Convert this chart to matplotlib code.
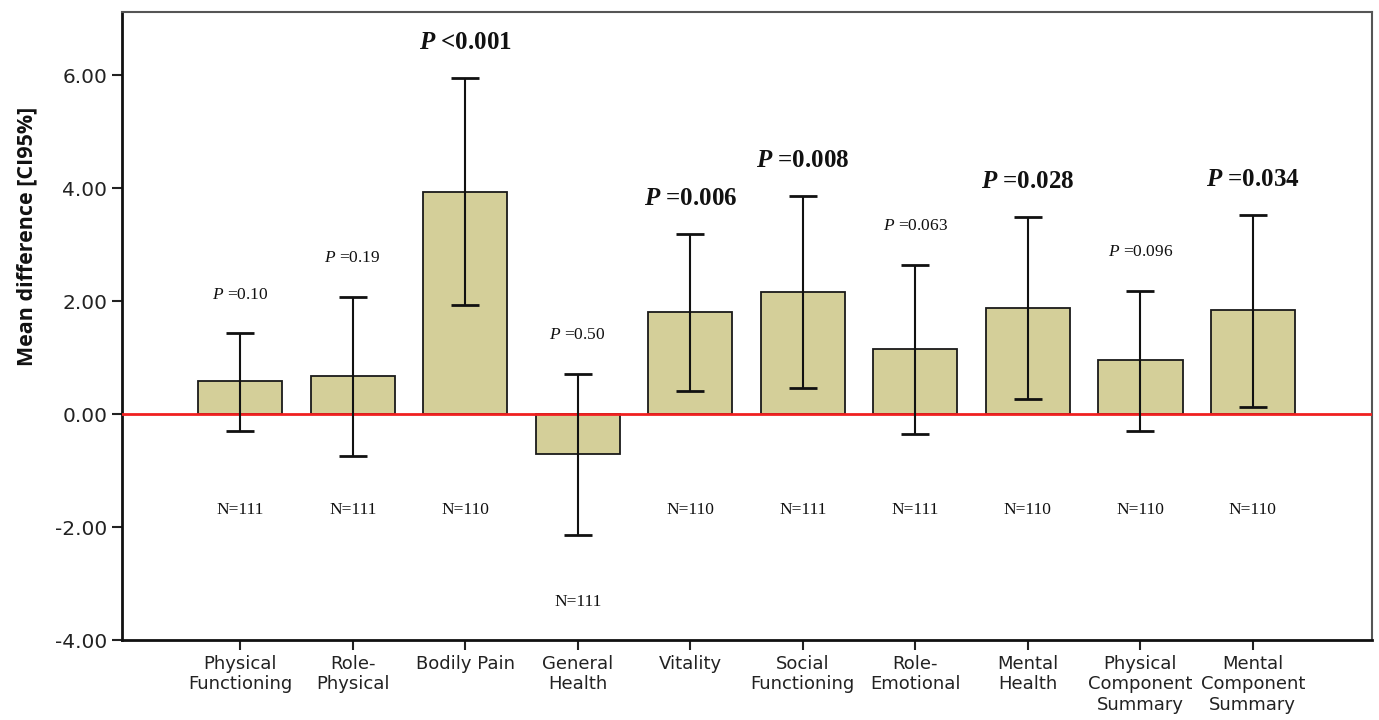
import matplotlib
matplotlib.use("Agg")
import matplotlib.pyplot as plt
import numpy as np

categories = ["Physical\nFunctioning", "Role-\nPhysical", "Bodily Pain", "General\nHealth",
              "Vitality", "Social\nFunctioning", "Role-\nEmotional", "Mental\nHealth",
              "Physical\nComponent\nSummary", "Mental\nComponent\nSummary"]
mean_diff = [0.58, 0.67, 3.93, -0.71, 1.81, 2.16, 1.15, 1.88, 0.96, 1.84]
ci_lower = [-0.30, -0.74, 1.93, -2.14, 0.42, 0.46, -0.35, 0.27, -0.30, 0.12]
ci_upper = [1.43, 2.08, 5.95, 0.71, 3.19, 3.86, 2.64, 3.49, 2.19, 3.52]
p_values = ["=0.10", "=0.19", "<0.001", "=0.50", "=0.006", "=0.008", "=0.063", "=0.028", "=0.096", "=0.034"]
p_significant = [False, False, True, False, True, True, False, True, False, True]
n_values = [111, 111, 110, 111, 110, 111, 111, 110, 110, 110]
y_ticks = [-4, -2, 0, 2, 4, 6]

plt.rcParams['axes.unicode_minus'] = False
plt.rcParams['mathtext.fontset'] = 'custom'
plt.rcParams['mathtext.rm'] = 'Liberation Serif'
plt.rcParams['mathtext.it'] = 'Liberation Serif:italic'
plt.rcParams['mathtext.bf'] = 'Liberation Serif:bold'
plt.rcParams['mathtext.bfit'] = 'Liberation Serif:bold:italic'

fig = plt.figure(figsize=(13.79, 7.2), dpi=100)
ax = fig.add_axes([0.0885, 0.111, 0.9065, 0.872])

x = np.arange(len(categories))
mean = np.array(mean_diff)
lo = np.array(ci_lower)
hi = np.array(ci_upper)

ax.bar(x, mean, width=0.75, color='#d4cf99', edgecolor='#1a1a1a', linewidth=1.3, zorder=2)
ax.axhline(0, color='#f02020', linewidth=2, zorder=3)
ax.errorbar(x, mean, yerr=[mean - lo, hi - mean], fmt='none', ecolor='#111111',
            elinewidth=1.5, capsize=10, capthick=2, zorder=4)

for i in range(len(x)):
    if p_significant[i]:
        s = r"$\mathbfit{P}$ " + p_values[i]
        ax.annotate(s, (x[i], hi[i]), xytext=(0, 26), textcoords='offset points',
                    ha='center', va='center', fontsize=18, fontweight='bold',
                    family='Liberation Serif', color='#111111')
    else:
        s = r"$\mathit{P}$ " + p_values[i]
        ax.annotate(s, (x[i], hi[i]), xytext=(0, 28), textcoords='offset points',
                    ha='center', va='center', fontsize=12.5,
                    family='Liberation Serif', color='#111111')
    ny = -1.70 if lo[i] > -1.5 else lo[i] - 1.19
    ax.text(x[i], ny, f"N={n_values[i]}", ha='center', va='center', fontsize=12.5,
            family='Liberation Serif', color='#111111')

ax.set_xlim(-1.05, 10.06)
ax.set_ylim(-4, 7.12)
ax.set_yticks(y_ticks)
ax.set_yticklabels([f"{v:.2f}" for v in y_ticks], fontsize=14.5, color='#222222')
ax.set_xticks(x)
ax.set_xticklabels(categories, fontsize=13, color='#222222', linespacing=1.15)
ax.tick_params(axis='both', direction='out', length=7, width=1.5, color='#222222')
ax.tick_params(axis='x', pad=4)
ax.set_ylabel("Mean difference [CI95%]", fontsize=15.5, fontweight='bold', color='#111111',
              family='Open Sans')
ax.yaxis.set_label_coords(-0.068, 0.643)

for side in ['left', 'bottom']:
    ax.spines[side].set_linewidth(2)
    ax.spines[side].set_color('#111111')
for side in ['top', 'right']:
    ax.spines[side].set_linewidth(1.5)
    ax.spines[side].set_color('#555555')

fig.savefig("out.png", dpi=100)
